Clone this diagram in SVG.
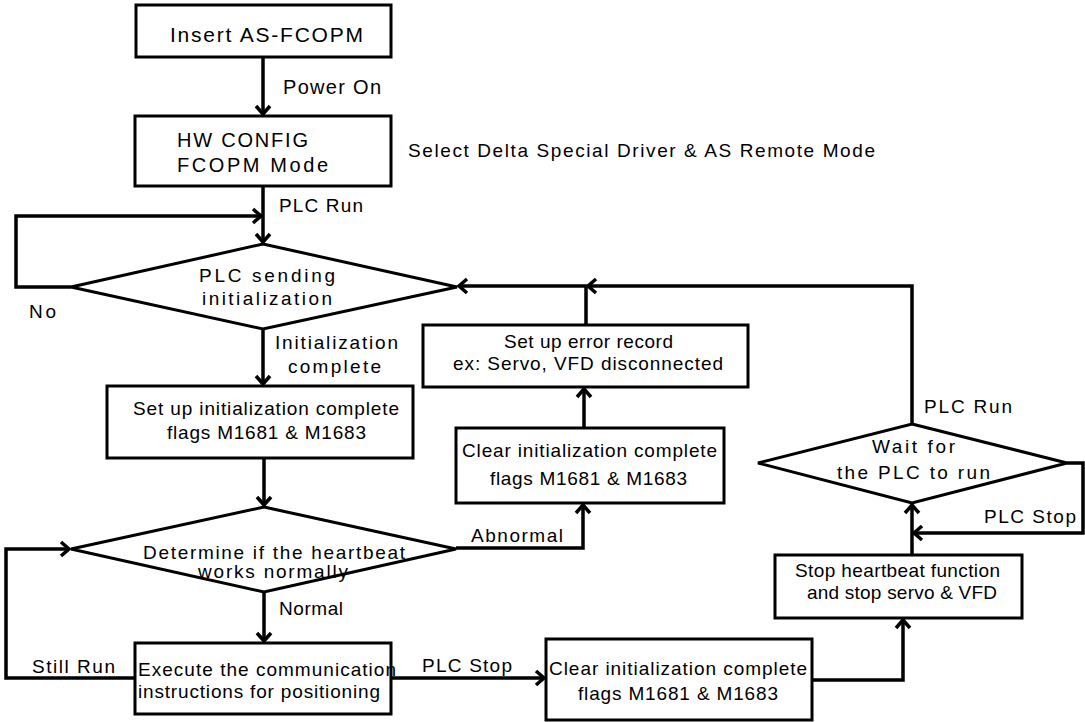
<svg xmlns="http://www.w3.org/2000/svg" width="1085" height="722" viewBox="0 0 1085 722">
<style>
  .box { fill: #fff; stroke: #000; stroke-width: 3; }
  .dia { fill: #fff; stroke: #000; stroke-width: 3; stroke-linejoin: miter; }
  .con { fill: none; stroke: #000; stroke-width: 3.5; }
  text { font-family: "Liberation Sans", Arial, sans-serif; font-size: 19px; fill: #000; }
  .big { font-size: 20px; }
</style>
<defs>
  <marker id="ah" markerUnits="userSpaceOnUse" markerWidth="18" markerHeight="18" viewBox="0 0 18 18" refX="11" refY="9" orient="auto">
    <path d="M3,2 L11,9 L3,16" fill="none" stroke="#000" stroke-width="3.5"/>
  </marker>
</defs>
<rect width="1085" height="722" fill="#fff"/>

<g id="connectors">
  <path class="con" d="M263,57 V114" marker-end="url(#ah)"/>
  <path class="con" d="M263,186 V242" marker-end="url(#ah)"/>
  <path class="con" d="M71,287 H16 V216 H261" marker-end="url(#ah)"/>
  <path class="con" d="M263,329 V384" marker-end="url(#ah)"/>
  <path class="con" d="M264,458 V505" marker-end="url(#ah)"/>
  <path class="con" d="M135,678 H6 V549 H69" marker-end="url(#ah)"/>
  <path class="con" d="M264,592 V641" marker-end="url(#ah)"/>
  <path class="con" d="M456,548 H583 V505" marker-end="url(#ah)"/>
  <path class="con" d="M584,428 V389" marker-end="url(#ah)"/>
  <path class="con" d="M586,325 V286 H459" marker-end="url(#ah)"/>
  <path class="con" d="M912,424 V286 H588" marker-end="url(#ah)"/>
  <path class="con" d="M391,678 H544" marker-end="url(#ah)"/>
  <path class="con" d="M812,680 H903 V620" marker-end="url(#ah)"/>
  <path class="con" d="M912,555 V505" marker-end="url(#ah)"/>
  <path class="con" d="M1067,463 H1083 V533 H914" marker-end="url(#ah)"/>
</g>

<g id="labels">
  <text x="283" y="94" textLength="98" lengthAdjust="spacing" style="font-size:20px">Power On</text>
  <text x="408" y="157" textLength="467" lengthAdjust="spacing">Select Delta Special Driver &amp; AS Remote Mode</text>
  <text x="279" y="212" textLength="84" lengthAdjust="spacing">PLC Run</text>
  <text x="29" y="318" textLength="27" lengthAdjust="spacing">No</text>
  <text x="275" y="349" textLength="123" lengthAdjust="spacing">Initialization</text>
  <text x="288" y="373" textLength="93" lengthAdjust="spacing">complete</text>
  <text x="471" y="542" textLength="92" lengthAdjust="spacing">Abnormal</text>
  <text x="279" y="615" textLength="64" lengthAdjust="spacing">Normal</text>
  <text x="32" y="673" textLength="83" lengthAdjust="spacing">Still Run</text>
  <text x="422" y="672" textLength="90" lengthAdjust="spacing">PLC Stop</text>
  <text x="924" y="413" textLength="88" lengthAdjust="spacing">PLC Run</text>
  <text x="984" y="523" textLength="92" lengthAdjust="spacing">PLC Stop</text>
</g>

<g id="n-insert">
  <rect class="box" x="136" y="5" width="255" height="52"/>
  <text x="170" y="42" textLength="193" lengthAdjust="spacing" style="font-size:21px">Insert AS-FCOPM</text>
</g>
<g id="n-hwconfig">
  <rect class="box" x="135" y="116" width="256" height="70"/>
  <text class="big" x="177" y="147" textLength="131" lengthAdjust="spacing">HW CONFIG</text>
  <text class="big" x="177" y="172" textLength="151" lengthAdjust="spacing">FCOPM Mode</text>
</g>
<g id="n-plc-sending">
  <polygon class="dia" points="263,244 457,287 263,329 71,287"/>
  <text x="199" y="282" textLength="136" lengthAdjust="spacing">PLC sending</text>
  <text x="202" y="305" textLength="130" lengthAdjust="spacing">initialization</text>
</g>
<g id="n-setup-flags">
  <rect class="box" x="107" y="386" width="306" height="72"/>
  <text x="133" y="415" textLength="266" lengthAdjust="spacing">Set up initialization complete</text>
  <text x="167" y="439" textLength="199" lengthAdjust="spacing">flags M1681 &amp; M1683</text>
</g>
<g id="n-error-record">
  <rect class="box" x="423" y="325" width="325" height="62"/>
  <text x="504" y="348" textLength="169" lengthAdjust="spacing">Set up error record</text>
  <text x="453" y="370" textLength="270" lengthAdjust="spacing">ex: Servo, VFD disconnected</text>
</g>
<g id="n-clear-mid">
  <rect class="box" x="456" y="428" width="268" height="75"/>
  <text x="462" y="457" textLength="255" lengthAdjust="spacing">Clear initialization complete</text>
  <text x="490" y="485" textLength="197" lengthAdjust="spacing">flags M1681 &amp; M1683</text>
</g>
<g id="n-heartbeat">
  <polygon class="dia" points="264,507 456,549 264,592 71,549"/>
  <text x="143" y="559" textLength="262" lengthAdjust="spacing">Determine if the heartbeat</text>
  <text x="198" y="578" textLength="150" lengthAdjust="spacing">works normally</text>
</g>
<g id="n-execute">
  <rect class="box" x="135" y="643" width="256" height="71"/>
  <text x="138" y="676" textLength="258" lengthAdjust="spacing">Execute the communication</text>
  <text x="138" y="698" textLength="242" lengthAdjust="spacing">instructions for positioning</text>
</g>
<g id="n-clear-bottom">
  <rect class="box" x="546" y="639" width="266" height="81"/>
  <text x="549" y="675" textLength="258" lengthAdjust="spacing">Clear initialization complete</text>
  <text x="578" y="700" textLength="200" lengthAdjust="spacing">flags M1681 &amp; M1683</text>
</g>
<g id="n-stop-heartbeat">
  <rect class="box" x="775" y="555" width="247" height="63"/>
  <text x="795" y="577" textLength="205" lengthAdjust="spacing">Stop heartbeat function</text>
  <text x="807" y="599" textLength="190" lengthAdjust="spacing">and stop servo &amp; VFD</text>
</g>
<g id="n-wait-plc">
  <polygon class="dia" points="912,424 1067,463 912,503 758,463"/>
  <text x="872" y="453" textLength="83" lengthAdjust="spacing">Wait for</text>
  <text x="837" y="479" textLength="153" lengthAdjust="spacing">the PLC to run</text>
</g>
</svg>
